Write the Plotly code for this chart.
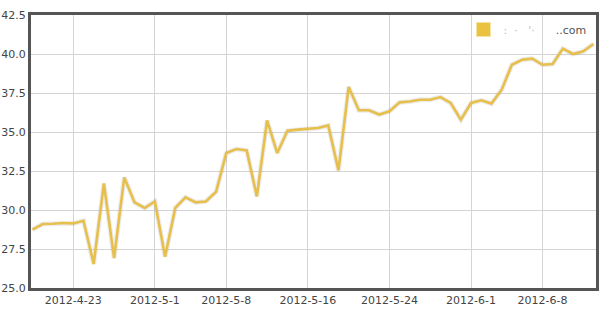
import plotly.graph_objects as go
import pandas as pd

dates = pd.date_range("2012-04-19", "2012-06-13", freq="D")
values = [
    28.74, 29.10, 29.12, 29.17, 29.14, 29.31, 26.54, 31.70, 26.92, 32.09, 30.49, 30.13,
    30.55, 27.00, 30.13, 30.81, 30.49, 30.55, 31.17, 33.65, 33.91, 33.82, 30.87, 35.74,
    33.65, 35.08, 35.15, 35.21, 35.26, 35.42, 32.54, 37.89, 36.39, 36.39, 36.12, 36.33,
    36.90, 36.95, 37.07, 37.07, 37.24, 36.86, 35.79, 36.86, 37.03, 36.82, 37.71, 39.31,
    39.63, 39.70, 39.31, 39.36, 40.34, 40.00, 40.17, 40.64,
]
tick_dates = ["2012-04-23", "2012-05-01", "2012-05-08", "2012-05-16", "2012-05-24", "2012-06-01", "2012-06-08"]
tick_labels = ["2012-4-23", "2012-5-1", "2012-5-8", "2012-5-16", "2012-5-24", "2012-6-1", "2012-6-8"]
y_ticks = [25.0, 27.5, 30.0, 32.5, 35.0, 37.5, 40.0, 42.5]
legend_name = ('<span style="color:#bdbdbd">:\u00a0\u00a0·\u00a0\u00a0\u00a0\'·\u00a0\u00a0\u00a0\u00a0\u00a0\u00a0</span>..com')

LINE = "#E6BF4C"

fig = go.Figure()
fig.add_trace(go.Scatter(x=dates, y=values, mode="lines",
                         line=dict(color="rgba(0,0,0,0.07)", width=5),
                         hoverinfo="skip", showlegend=False))
fig.add_trace(go.Scatter(x=dates, y=values, mode="lines",
                         line=dict(color=LINE, width=2.6), showlegend=False))
fig.add_trace(go.Scatter(x=[None], y=[None], mode="markers", name=legend_name,
                         marker=dict(symbol="square", size=14, color="#EBC140",
                                     line=dict(color="#F6E3A6", width=1))))

fig.update_layout(
    width=603, height=317,
    margin=dict(l=31, r=7, t=15, b=29),
    paper_bgcolor="white", plot_bgcolor="white",
    font=dict(family="DejaVu Sans", size=11, color="#444"),
    legend=dict(x=0.7655, y=1.0, xanchor="left", yanchor="top",
                bgcolor="rgba(0,0,0,0)", font=dict(size=11, color="#555")),
    xaxis=dict(
        type="date", automargin=False,
        range=["2012-04-18 20:30", "2012-06-13 06:00"],
        tickvals=tick_dates, ticktext=tick_labels,
        showgrid=True, gridcolor="#d4d4d4", gridwidth=1,
        showline=True, linecolor="#555", linewidth=3, mirror=True,
        ticks="", tickfont=dict(size=11, color="#444"),
        zeroline=False,
    ),
    yaxis=dict(
        automargin=False,
        range=[25, 42.5], tickvals=y_ticks,
        ticktext=[f"{v:.1f}" for v in y_ticks],
        showgrid=True, gridcolor="#d4d4d4", gridwidth=1,
        showline=True, linecolor="#555", linewidth=3, mirror=True,
        ticks="", tickfont=dict(size=11, color="#444"),
        zeroline=False,
    ),
)

fig.write_html("out.html")
